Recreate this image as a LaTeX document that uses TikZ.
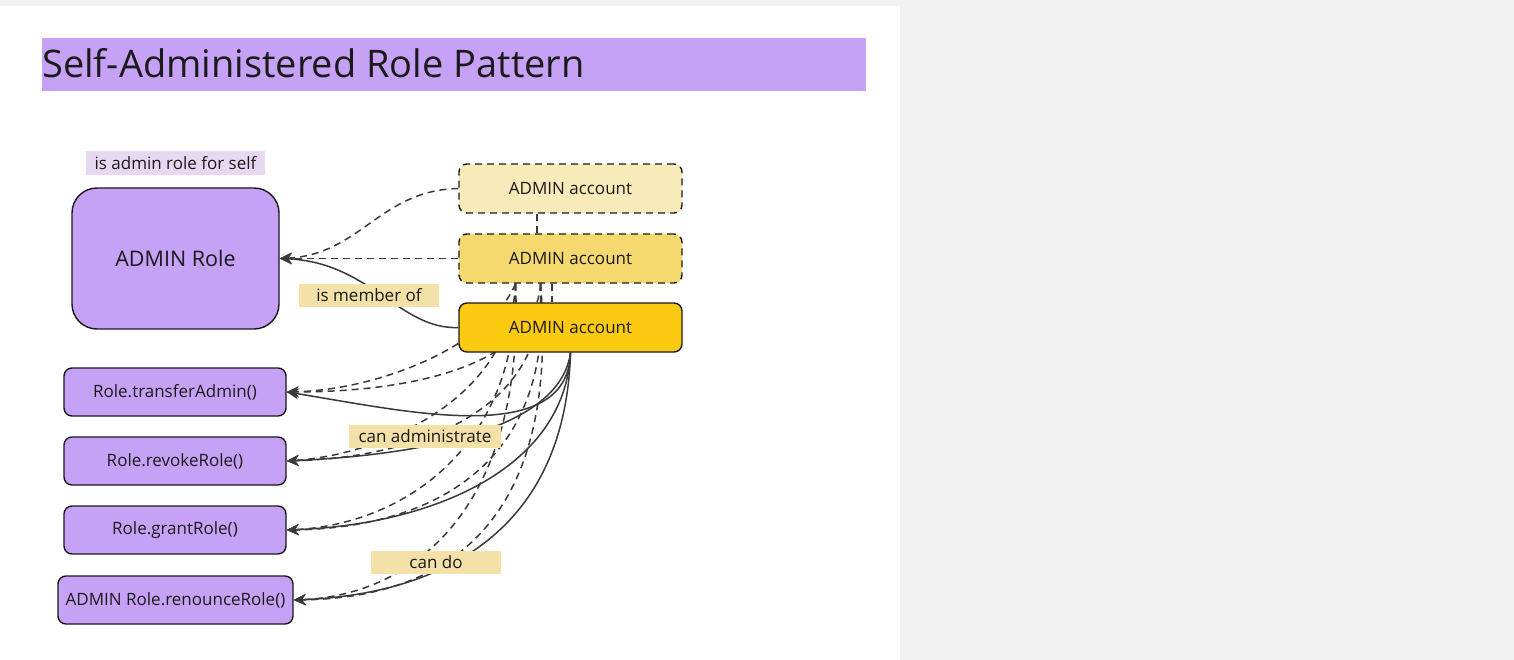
\documentclass[tikz,border=0pt]{standalone}
\usepackage{fontspec}
\setmainfont{Open Sans}
\usetikzlibrary{arrows.meta,positioning}
\definecolor{bgc}{RGB}{242,242,242}
\definecolor{purp}{RGB}{198,162,246}
\definecolor{lav}{RGB}{230,216,240}
\definecolor{lbly}{RGB}{243,225,168}
\definecolor{acca}{RGB}{248,235,185}
\definecolor{accb}{RGB}{245,216,110}
\definecolor{accc}{RGB}{253,202,18}
\definecolor{edge}{RGB}{26,26,26}
\definecolor{linec}{RGB}{58,58,58}
\tikzset{
  purpbox/.style={draw=edge, line width=1.4pt, fill=purp, rounded corners=8pt, inner sep=0pt, font=\fontsize{17}{20}\selectfont, text=edge},
  accbox/.style={draw=edge, line width=1.4pt, rounded corners=8pt, minimum width=223pt, minimum height=49pt, inner sep=0pt, font=\fontsize{17}{20}\selectfont, text=edge},
  lblbox/.style={fill=lbly, inner sep=0pt, minimum height=23pt, font=\fontsize{17}{20}\selectfont, text=edge},
  conn/.style={draw=linec, line width=1.5pt, -{Stealth[length=12pt,width=11pt]}},
  dconn/.style={conn, dash pattern=on 7pt off 5pt},
  dline/.style={draw=linec, line width=1.5pt, dash pattern=on 7pt off 5pt}
}
\begin{document}
\begin{tikzpicture}[x=1pt,y=-1pt]
\useasboundingbox (0,0) rectangle (1514,660);
\fill[bgc] (0,0) rectangle (1514,660);
\fill[white] (0,6) rectangle (900,660);
\fill[purp] (42,38) rectangle (866,91);
\node[anchor=base west, inner sep=0pt, font=\fontsize{38}{45}\selectfont, text=edge] (title) at (42,78) {Self-Administered Role Pattern};

% coordinates for hidden starts
\node[accbox, draw=none, fill=none] (acc2p) at (570.5,258.5) {};
\coordinate (d1) at ([xshift=-55pt]acc2p.south);
\coordinate (d2) at ([xshift=-30pt]acc2p.south);

% method boxes
\node[purpbox, minimum width=222pt, minimum height=48pt] (m1) at (175,392) {Role.transferAdmin()};
\node[purpbox, minimum width=222pt, minimum height=48pt] (m2) at (175,461) {Role.revokeRole()};
\node[purpbox, minimum width=222pt, minimum height=48pt] (m3) at (175,530) {Role.grantRole()};
\node[purpbox, minimum width=235pt, minimum height=48pt] (m4) at (175.5,600) {ADMIN Role.renounceRole()};

% dashed connectors (behind account boxes)
\draw[dconn] (d1) .. controls (490,345) and (380,390) .. (m1.east);
\draw[dconn] (d2) .. controls (535,370) and (400,392) .. (m1.east);
\draw[dconn] (d1) .. controls (510,400) and (380,455) .. (m2.east);
\draw[dconn] (d2) .. controls (548,420) and (400,458) .. (m2.east);
\draw[dconn] (d1) .. controls (518,450) and (400,525) .. (m3.east);
\draw[dconn] (d2) .. controls (555,470) and (425,528) .. (m3.east);
\draw[dconn] (d1) .. controls (525,500) and (420,595) .. (m4.east);
\draw[dconn] (d2) .. controls (560,525) and (445,598) .. (m4.east);

\node[lblbox, fill=lav, minimum width=179pt, minimum height=24pt] (selflbl) at (175.5,163) {is admin role for self};
\node[purpbox, rounded corners=25pt, minimum width=207pt, minimum height=141pt, font=\fontsize{21.5}{26}\selectfont] (role) at (175.5,258.5) {ADMIN Role};

\node[accbox, dash pattern=on 7pt off 5pt, fill=acca] (acc1) at (570.5,188.5) {ADMIN account};
\node[accbox, dash pattern=on 7pt off 5pt, fill=accb] (acc2) at (570.5,258.5) {ADMIN account};
\node[accbox, fill=accc] (acc3) at (570.5,327.5) {ADMIN account};

\draw[dline] ([xshift=-33.5pt]acc1.south) -- ([xshift=-33.5pt]acc2.north);
\draw[dline] ([xshift=-18.5pt]acc2.south) -- ([xshift=-18.5pt]acc3.north);

% to admin role
\draw[dconn] (acc1.west) .. controls (380,190) and (360,255) .. (role.east);
\draw[dconn] (acc2.west) -- (role.east);
\draw[conn] (acc3.west) .. controls (400,330) and (370,262) .. (role.east);

% solid connectors to methods
\draw[conn] (acc3.south) .. controls (568,450) and (400,410) .. (m1.east);
\draw[conn] (acc3.south) .. controls (560,430) and (420,455) .. (m2.east);
\draw[conn] (acc3.south) .. controls (565,470) and (430,525) .. (m3.east);
\draw[conn] (acc3.south) .. controls (565,540) and (430,595) .. (m4.east);

\node[lblbox, minimum width=140pt] (memberlbl) at (369,295.5) {is member of};
\node[lblbox, minimum width=152pt] (adminlbl) at (425,436.5) {can administrate};
\node[lblbox, minimum width=130pt] (dolbl) at (436,562.5) {can do};
\end{tikzpicture}
\end{document}
